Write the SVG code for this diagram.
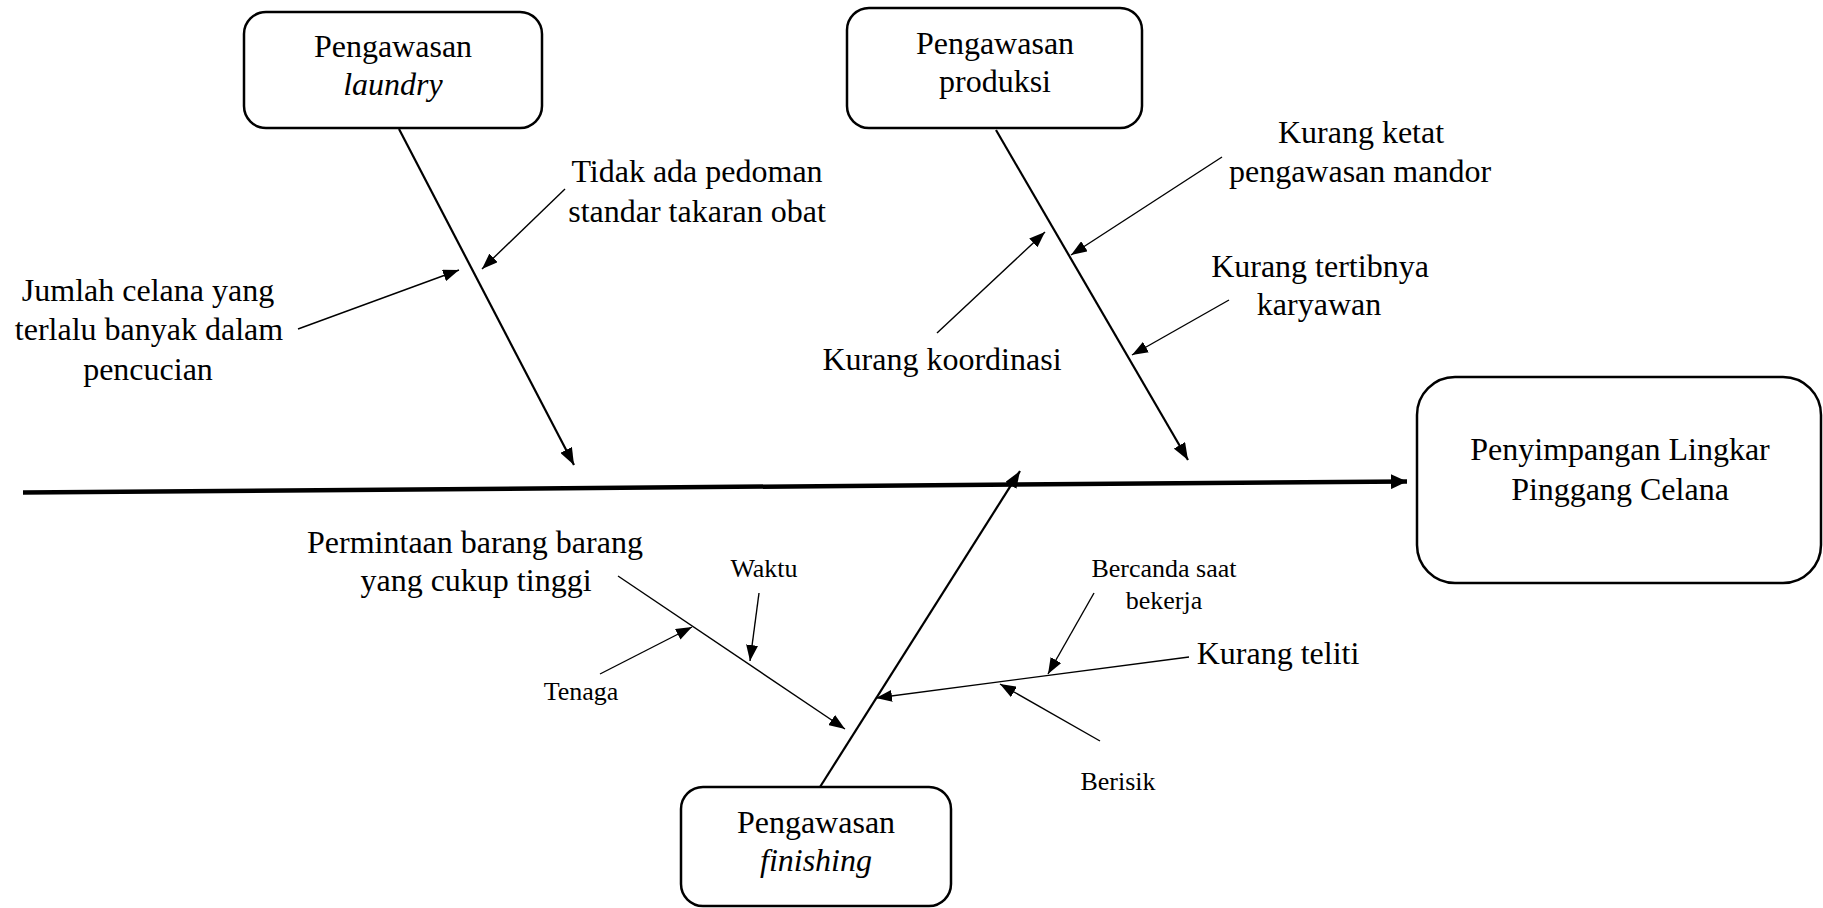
<svg xmlns="http://www.w3.org/2000/svg" width="1823" height="908" viewBox="0 0 1823 908">
<defs>
<style>
.box{fill:#fff;stroke:#000;stroke-width:2.5}
.t{font-family:'Liberation Serif','Times New Roman',Times,'DejaVu Serif','Noto Serif',serif;font-size:32px;fill:#000;text-anchor:middle}
.s{font-size:26px}
.i{font-style:italic}
.spine{stroke:#000;stroke-width:4.5;fill:none}
.bone{stroke:#000;stroke-width:2.2;fill:none}
.sub{stroke:#000;stroke-width:1.4;fill:none}
</style>
<marker id="ah" markerUnits="userSpaceOnUse" markerWidth="17" markerHeight="13" refX="17" refY="6.5" orient="auto">
<path d="M0,0 L17,6.5 L0,13 z" fill="#000"/>
</marker>
<marker id="ahs" markerUnits="userSpaceOnUse" markerWidth="16" markerHeight="12" refX="16" refY="6" orient="auto">
<path d="M0,0 L16,6 L0,12 z" fill="#000"/>
</marker>
<marker id="ahb" markerUnits="userSpaceOnUse" markerWidth="16" markerHeight="15" refX="16" refY="7.5" orient="auto">
<path d="M0,0 L16,7.5 L0,15 z" fill="#000"/>
</marker>
</defs>
<g id="connectors">
<line class="spine" x1="23" y1="492.5" x2="1407" y2="481.5" marker-end="url(#ahb)"/>
<line class="bone" x1="399" y1="129" x2="574" y2="465" marker-end="url(#ah)"/>
<line class="bone" x1="996" y1="130" x2="1188" y2="460" marker-end="url(#ah)"/>
<line class="bone" x1="820" y1="787" x2="1020" y2="471" marker-end="url(#ah)"/>
<line class="sub" x1="565" y1="189" x2="482" y2="269" marker-end="url(#ahs)"/>
<line class="sub" x1="298" y1="329" x2="459" y2="270" marker-end="url(#ahs)"/>
<line class="sub" x1="1222" y1="157" x2="1071" y2="255" marker-end="url(#ahs)"/>
<line class="sub" x1="937" y1="333" x2="1045" y2="232" marker-end="url(#ahs)"/>
<line class="sub" x1="1229" y1="300" x2="1132" y2="355" marker-end="url(#ahs)"/>
<line class="sub" x1="618" y1="576" x2="845" y2="729" marker-end="url(#ahs)"/>
<line class="sub" x1="600" y1="674" x2="692" y2="627" marker-end="url(#ahs)"/>
<line class="sub" x1="759" y1="593" x2="750" y2="661" marker-end="url(#ahs)"/>
<line class="sub" x1="1189" y1="657" x2="876" y2="698" marker-end="url(#ahs)"/>
<line class="sub" x1="1094" y1="593" x2="1048" y2="674" marker-end="url(#ahs)"/>
<line class="sub" x1="1100" y1="741" x2="1000" y2="684" marker-end="url(#ahs)"/>
</g>
<g id="node-laundry">
<rect class="box" x="244" y="12" width="298" height="116" rx="22"/>
<text class="t" x="393" y="57">Pengawasan</text>
<text class="t i" x="393" y="95">laundry</text>
</g>
<g id="node-produksi">
<rect class="box" x="847" y="8" width="295" height="120" rx="22"/>
<text class="t" x="995" y="54">Pengawasan</text>
<text class="t" x="995" y="92">produksi</text>
</g>
<g id="node-finishing">
<rect class="box" x="681" y="787" width="270" height="119" rx="22"/>
<text class="t" x="816" y="833">Pengawasan</text>
<text class="t i" x="816" y="871">finishing</text>
</g>
<g id="node-effect">
<rect class="box" x="1417" y="377" width="404" height="206" rx="38"/>
<text class="t" x="1620" y="460">Penyimpangan Lingkar</text>
<text class="t" x="1620" y="500">Pinggang Celana</text>
</g>
<g id="cause-tidak">
<text class="t" x="697" y="182">Tidak ada pedoman</text>
<text class="t" x="697" y="222">standar takaran obat</text>
</g>
<g id="cause-jumlah">
<text class="t" x="148" y="301">Jumlah celana yang</text>
<text class="t" x="149" y="340">terlalu banyak dalam</text>
<text class="t" x="148" y="380">pencucian</text>
</g>
<g id="cause-ketat">
<text class="t" x="1361" y="143">Kurang ketat</text>
<text class="t" x="1360" y="182">pengawasan mandor</text>
</g>
<g id="cause-tertib">
<text class="t" x="1320" y="277">Kurang tertibnya</text>
<text class="t" x="1319" y="315">karyawan</text>
</g>
<g id="cause-koordinasi">
<text class="t" x="942" y="370">Kurang koordinasi</text>
</g>
<g id="cause-permintaan">
<text class="t" x="475" y="553">Permintaan barang barang</text>
<text class="t" x="476" y="591">yang cukup tinggi</text>
</g>
<g id="cause-waktu">
<text class="t s" x="764" y="577">Waktu</text>
</g>
<g id="cause-tenaga">
<text class="t s" x="581" y="700">Tenaga</text>
</g>
<g id="cause-teliti">
<text class="t" x="1278" y="664">Kurang teliti</text>
</g>
<g id="cause-bercanda">
<text class="t s" x="1164" y="577">Bercanda saat</text>
<text class="t s" x="1164" y="609">bekerja</text>
</g>
<g id="cause-berisik">
<text class="t s" x="1118" y="790">Berisik</text>
</g>
</svg>
